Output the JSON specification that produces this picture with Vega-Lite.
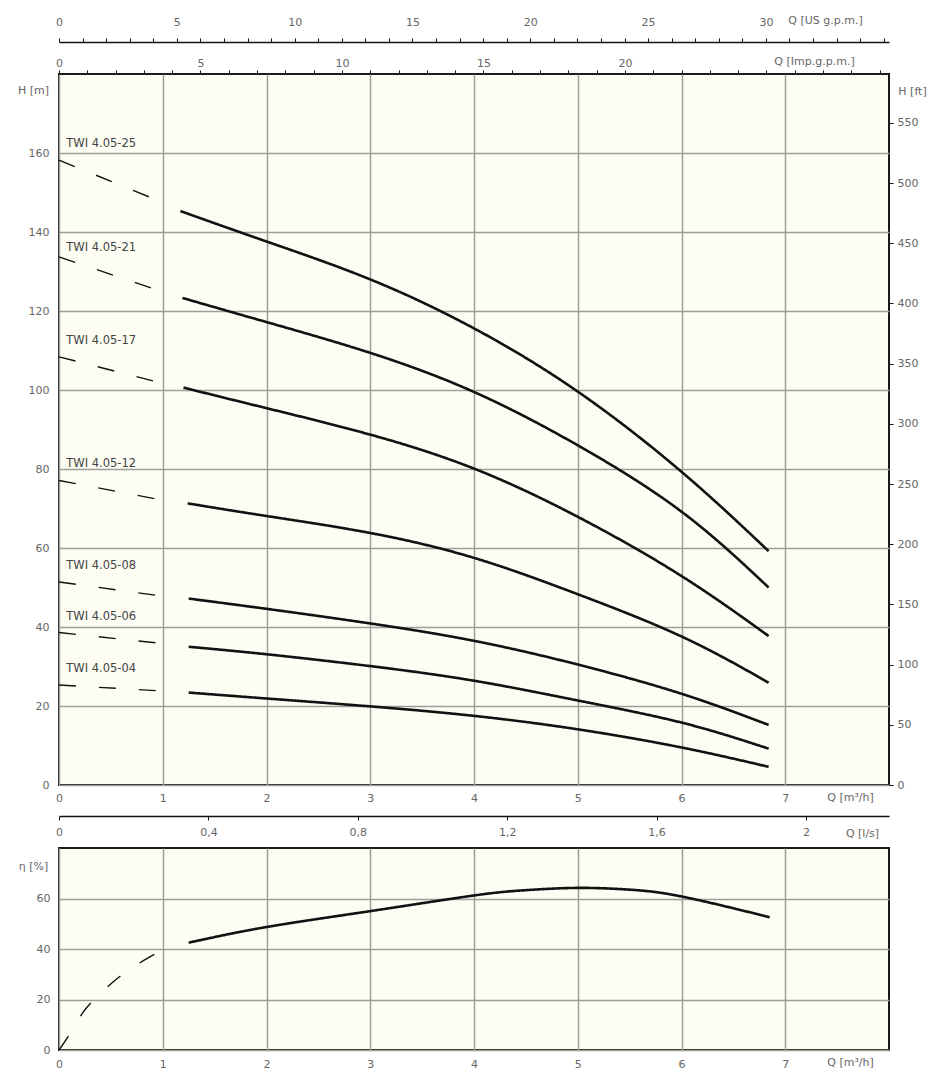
{
  "$schema": "https://vega.github.io/schema/vega-lite/v6.json",
  "background": "white",
  "padding": {"left": 16, "top": 13, "right": 5, "bottom": 5},
  "bounds": "flush",
  "spacing": 63,
  "datasets": {
    "curves": [
      {"pump": "25", "seg": "dash", "q": 0, "h": 158.2},
      {"pump": "25", "seg": "dash", "q": 0.97, "h": 147.8},
      {"pump": "25", "seg": "solid", "q": 1.17, "h": 145.3},
      {"pump": "25", "seg": "solid", "q": 2, "h": 137.6},
      {"pump": "25", "seg": "solid", "q": 3, "h": 128.0},
      {"pump": "25", "seg": "solid", "q": 4, "h": 115.6},
      {"pump": "25", "seg": "solid", "q": 5, "h": 99.6},
      {"pump": "25", "seg": "solid", "q": 6, "h": 79.3},
      {"pump": "25", "seg": "solid", "q": 6.84, "h": 59.2},
      {"pump": "21", "seg": "dash", "q": 0, "h": 133.7},
      {"pump": "21", "seg": "dash", "q": 0.96, "h": 125.2},
      {"pump": "21", "seg": "solid", "q": 1.19, "h": 123.3},
      {"pump": "21", "seg": "solid", "q": 2, "h": 117.2},
      {"pump": "21", "seg": "solid", "q": 3, "h": 109.4},
      {"pump": "21", "seg": "solid", "q": 4, "h": 99.5},
      {"pump": "21", "seg": "solid", "q": 5, "h": 86.0},
      {"pump": "21", "seg": "solid", "q": 6, "h": 69.2},
      {"pump": "21", "seg": "solid", "q": 6.84, "h": 50.0},
      {"pump": "17", "seg": "dash", "q": 0, "h": 108.4},
      {"pump": "17", "seg": "dash", "q": 0.98, "h": 101.8},
      {"pump": "17", "seg": "solid", "q": 1.2, "h": 100.6},
      {"pump": "17", "seg": "solid", "q": 2, "h": 95.4},
      {"pump": "17", "seg": "solid", "q": 3, "h": 88.7},
      {"pump": "17", "seg": "solid", "q": 4, "h": 80.1},
      {"pump": "17", "seg": "solid", "q": 5, "h": 67.9},
      {"pump": "17", "seg": "solid", "q": 6, "h": 52.9},
      {"pump": "17", "seg": "solid", "q": 6.84, "h": 37.7},
      {"pump": "12", "seg": "dash", "q": 0, "h": 77.1},
      {"pump": "12", "seg": "dash", "q": 1.0, "h": 72.1},
      {"pump": "12", "seg": "solid", "q": 1.24, "h": 71.3},
      {"pump": "12", "seg": "solid", "q": 2, "h": 68.1},
      {"pump": "12", "seg": "solid", "q": 3, "h": 63.8},
      {"pump": "12", "seg": "solid", "q": 4, "h": 57.5},
      {"pump": "12", "seg": "solid", "q": 5, "h": 48.3},
      {"pump": "12", "seg": "solid", "q": 6, "h": 37.6},
      {"pump": "12", "seg": "solid", "q": 6.84, "h": 25.9},
      {"pump": "08", "seg": "dash", "q": 0, "h": 51.4},
      {"pump": "08", "seg": "dash", "q": 1.0, "h": 47.8},
      {"pump": "08", "seg": "solid", "q": 1.25, "h": 47.2},
      {"pump": "08", "seg": "solid", "q": 2, "h": 44.6},
      {"pump": "08", "seg": "solid", "q": 3, "h": 40.9},
      {"pump": "08", "seg": "solid", "q": 4, "h": 36.5},
      {"pump": "08", "seg": "solid", "q": 5, "h": 30.5},
      {"pump": "08", "seg": "solid", "q": 6, "h": 23.1},
      {"pump": "08", "seg": "solid", "q": 6.84, "h": 15.2},
      {"pump": "06", "seg": "dash", "q": 0, "h": 38.6},
      {"pump": "06", "seg": "dash", "q": 1.0, "h": 35.8},
      {"pump": "06", "seg": "solid", "q": 1.25, "h": 35.0},
      {"pump": "06", "seg": "solid", "q": 2, "h": 33.1},
      {"pump": "06", "seg": "solid", "q": 3, "h": 30.1},
      {"pump": "06", "seg": "solid", "q": 4, "h": 26.4},
      {"pump": "06", "seg": "solid", "q": 5, "h": 21.4},
      {"pump": "06", "seg": "solid", "q": 6, "h": 15.8},
      {"pump": "06", "seg": "solid", "q": 6.84, "h": 9.2},
      {"pump": "04", "seg": "dash", "q": 0, "h": 25.3},
      {"pump": "04", "seg": "dash", "q": 1.0, "h": 23.8},
      {"pump": "04", "seg": "solid", "q": 1.25, "h": 23.4},
      {"pump": "04", "seg": "solid", "q": 2, "h": 21.9},
      {"pump": "04", "seg": "solid", "q": 3, "h": 19.9},
      {"pump": "04", "seg": "solid", "q": 4, "h": 17.5},
      {"pump": "04", "seg": "solid", "q": 5, "h": 14.1},
      {"pump": "04", "seg": "solid", "q": 6, "h": 9.5},
      {"pump": "04", "seg": "solid", "q": 6.84, "h": 4.6}
    ],
    "labels": [
      {"q": 0.07, "h": 162.2, "label": "TWI 4.05-25"},
      {"q": 0.07, "h": 136.0, "label": "TWI 4.05-21"},
      {"q": 0.07, "h": 112.4, "label": "TWI 4.05-17"},
      {"q": 0.07, "h": 81.2, "label": "TWI 4.05-12"},
      {"q": 0.07, "h": 55.4, "label": "TWI 4.05-08"},
      {"q": 0.07, "h": 42.6, "label": "TWI 4.05-06"},
      {"q": 0.07, "h": 29.3, "label": "TWI 4.05-04"}
    ],
    "eta": [
      {"seg": "dash", "q": 0, "eta": 0},
      {"seg": "dash", "q": 0.107, "eta": 6.6},
      {"seg": "dash", "q": 0.226, "eta": 14.6},
      {"seg": "dash", "q": 0.35, "eta": 20.4},
      {"seg": "dash", "q": 0.515, "eta": 26.7},
      {"seg": "dash", "q": 0.66, "eta": 31.3},
      {"seg": "dash", "q": 0.85, "eta": 36.3},
      {"seg": "dash", "q": 1.01, "eta": 39.8},
      {"seg": "solid", "q": 1.25, "eta": 42.5},
      {"seg": "solid", "q": 2, "eta": 48.7},
      {"seg": "solid", "q": 3, "eta": 55.0},
      {"seg": "solid", "q": 4, "eta": 61.2},
      {"seg": "solid", "q": 4.5, "eta": 63.3},
      {"seg": "solid", "q": 5, "eta": 64.2},
      {"seg": "solid", "q": 5.5, "eta": 63.5},
      {"seg": "solid", "q": 6, "eta": 60.8},
      {"seg": "solid", "q": 6.85, "eta": 52.6}
    ]
  },
  "vconcat": [
    {
      "width": 830,
      "height": 711,
      "layer": [
        {
          "data": {"name": "curves"},
          "mark": {"type": "line", "interpolate": "natural", "color": "#111111"},
          "encoding": {
            "x": {
              "field": "q", "type": "quantitative",
              "scale": {"domain": [0, 8], "nice": false, "zero": false},
              "axis": {
                "orient": "bottom", "values": [0, 1, 2, 3, 4, 5, 6, 7], "grid": true,
                "labelPadding": 7, "title": "Q [m³/h]", "titleX": 791, "titleY": 12.5,
                "titleAlign": "center", "titleBaseline": "middle"
              }
            },
            "y": {
              "field": "h", "type": "quantitative",
              "scale": {"domain": [0, 180], "nice": false, "zero": false},
              "axis": {
                "orient": "left", "values": [0, 20, 40, 60, 80, 100, 120, 140, 160], "grid": true,
                "labelPadding": 10, "title": "H [m]", "titleAngle": 0, "titleX": -26, "titleY": 16,
                "titleAlign": "center", "titleBaseline": "middle"
              }
            },
            "detail": {"field": "pump"},
            "strokeDash": {
              "field": "seg", "type": "nominal",
              "scale": {"domain": ["solid", "dash"], "range": [[1, 0], [17, 23]]},
              "legend": null
            },
            "strokeWidth": {
              "field": "seg", "type": "nominal",
              "scale": {"domain": ["solid", "dash"], "range": [2.6, 1.4]},
              "legend": null
            }
          }
        },
        {
          "data": {"name": "labels"},
          "mark": {"type": "text", "align": "left", "baseline": "middle", "fontSize": 11.5, "color": "#444444"},
          "encoding": {
            "x": {"field": "q", "type": "quantitative", "scale": {"domain": [0, 8], "nice": false, "zero": false}, "axis": null},
            "y": {"field": "h", "type": "quantitative", "scale": {"domain": [0, 180], "nice": false, "zero": false}, "axis": null},
            "text": {"field": "label"}
          }
        },
        {
          "data": {"values": [{"ls": 0, "ft": 0}, {"ls": 2.22222, "ft": 590.551}]},
          "mark": {"type": "point", "opacity": 0},
          "encoding": {
            "x": {
              "field": "ls", "type": "quantitative",
              "scale": {"domain": [0, 2.22222], "nice": false, "zero": false},
              "axis": {
                "orient": "bottom", "offset": 31, "values": [0, 0.4, 0.8, 1.2, 1.6, 2],
                "labelExpr": "replace(format(datum.value, '~g'), '.', ',')",
                "domain": true, "domainColor": "#111111", "domainWidth": 1.5,
                "ticks": true, "tickColor": "#111111", "tickSize": 4, "labelPadding": 6,
                "grid": false, "title": "Q [l/s]", "titleX": 803, "titleY": 17,
                "titleAlign": "center", "titleBaseline": "middle"
              }
            },
            "y": {
              "field": "ft", "type": "quantitative",
              "scale": {"domain": [0, 590.551], "nice": false, "zero": false},
              "axis": {
                "orient": "right", "values": [0, 50, 100, 150, 200, 250, 300, 350, 400, 450, 500, 550],
                "ticks": true, "tickColor": "#111111", "tickSize": 4, "labelPadding": 4,
                "grid": false, "title": "H [ft]", "titleAngle": 0, "titleX": 23, "titleY": 17.5,
                "titleAlign": "center", "titleBaseline": "middle"
              }
            }
          }
        },
        {
          "data": {"values": [{"usgpm": 0, "d": 0}, {"usgpm": 35.223, "d": 1}]},
          "mark": {"type": "point", "opacity": 0},
          "encoding": {
            "x": {
              "field": "usgpm", "type": "quantitative",
              "scale": {"domain": [0, 35.223], "nice": false, "zero": false},
              "axis": {
                "orient": "top", "offset": 32,
                "values": [0, 1, 2, 3, 4, 5, 6, 7, 8, 9, 10, 11, 12, 13, 14, 15, 16, 17, 18, 19, 20, 21, 22, 23, 24, 25, 26, 27, 28, 29, 30, 31, 32, 33, 34, 35],
                "labelExpr": "datum.value % 5 === 0 && datum.value <= 30 ? datum.label : ''",
                "domain": true, "domainColor": "#111111", "domainWidth": 1.5,
                "ticks": true, "tickColor": "#111111", "tickSize": 4, "labelPadding": 11,
                "grid": false, "title": "Q [US g.p.m.]", "titleX": 766, "titleY": -22,
                "titleAlign": "center", "titleBaseline": "middle"
              }
            },
            "y": {"field": "d", "type": "quantitative", "axis": null}
          }
        },
        {
          "data": {"values": [{"impgpm": 0, "d": 0}, {"impgpm": 29.329, "d": 1}]},
          "mark": {"type": "point", "opacity": 0},
          "encoding": {
            "x": {
              "field": "impgpm", "type": "quantitative",
              "scale": {"domain": [0, 29.329], "nice": false, "zero": false},
              "axis": {
                "orient": "top", "offset": 0,
                "values": [0, 1, 2, 3, 4, 5, 6, 7, 8, 9, 10, 11, 12, 13, 14, 15, 16, 17, 18, 19, 20, 21, 22, 23, 24, 25, 26, 27, 28, 29],
                "labelExpr": "datum.value % 5 === 0 && datum.value <= 20 ? datum.label : ''",
                "ticks": true, "tickColor": "#111111", "tickSize": 4, "labelPadding": 2,
                "grid": false, "title": "Q [Imp.g.p.m.]", "titleX": 755, "titleY": -13,
                "titleAlign": "center", "titleBaseline": "middle"
              }
            },
            "y": {"field": "d", "type": "quantitative", "axis": null}
          }
        }
      ],
      "resolve": {
        "scale": {"x": "independent", "y": "independent"},
        "axis": {"x": "independent", "y": "independent"}
      }
    },
    {
      "width": 830,
      "height": 202,
      "data": {"name": "eta"},
      "mark": {"type": "line", "interpolate": "natural", "color": "#111111"},
      "encoding": {
        "x": {
          "field": "q", "type": "quantitative",
          "scale": {"domain": [0, 8], "nice": false, "zero": false},
          "axis": {
            "orient": "bottom", "values": [0, 1, 2, 3, 4, 5, 6, 7], "grid": true,
            "labelPadding": 8, "title": "Q [m³/h]", "titleX": 791, "titleY": 12.5,
            "titleAlign": "center", "titleBaseline": "middle"
          }
        },
        "y": {
          "field": "eta", "type": "quantitative",
          "scale": {"domain": [0, 80], "nice": false, "zero": false},
          "axis": {
            "orient": "left", "values": [0, 20, 40, 60], "grid": true,
            "labelPadding": 9, "title": "η [%]", "titleAngle": 0, "titleX": -26, "titleY": 18,
            "titleAlign": "center", "titleBaseline": "middle"
          }
        },
        "strokeDash": {
          "field": "seg", "type": "nominal",
          "scale": {"domain": ["solid", "dash"], "range": [[1, 0], [19, 24]]},
          "legend": null
        },
        "strokeWidth": {
          "field": "seg", "type": "nominal",
          "scale": {"domain": ["solid", "dash"], "range": [2.6, 1.4]},
          "legend": null
        }
      }
    }
  ],
  "config": {
    "font": "DejaVu Sans",
    "view": {"fill": "#fefdf4", "stroke": "#1a1a1a", "strokeWidth": 2},
    "axis": {
      "labelFont": "DejaVu Sans", "labelFontSize": 11, "labelColor": "#666666",
      "titleFont": "DejaVu Sans", "titleFontSize": 11, "titleColor": "#666666", "titleFontWeight": "normal",
      "gridColor": "#9e9e96", "gridWidth": 1.5, "gridOpacity": 1,
      "domain": false, "ticks": false,
      "labelFlush": false, "labelOverlap": false, "labelBound": false
    }
  }
}
